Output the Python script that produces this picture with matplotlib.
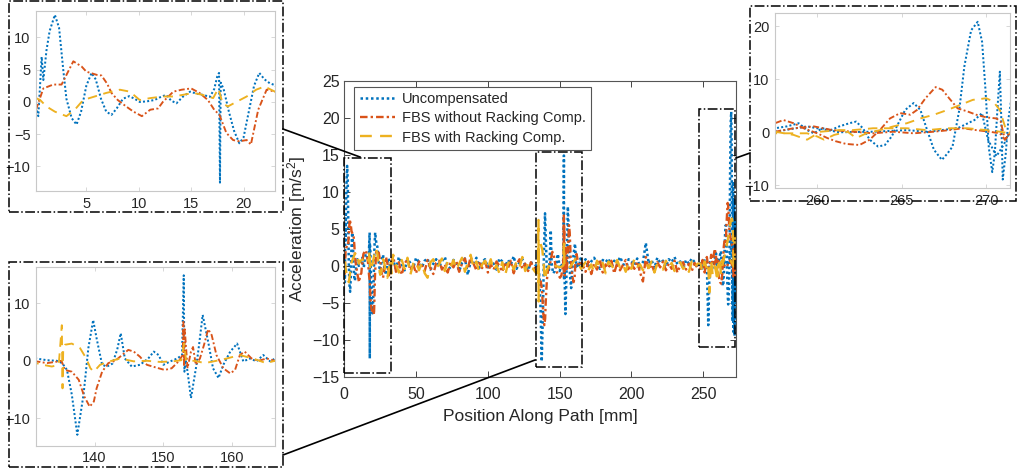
import numpy as np
import matplotlib
matplotlib.use('Agg')
import matplotlib.pyplot as plt
from matplotlib.lines import Line2D
from matplotlib.patches import Rectangle

plt.rcParams['font.family'] = ['Liberation Sans', 'DejaVu Sans']
plt.rcParams['mathtext.default'] = 'regular'

BLUE, ORANGE, YELLOW = '#0072BD', '#D95319', '#EDB120'
TXT = '#262626'

# ---------------- data (position mm, acceleration m/s^2) ----------------
# segment 1: start of path (0 - 33 mm)
s1_x_unc = [0.2, 0.42, 0.74, 0.9, 1.2, 1.5, 2.0, 2.4, 2.8, 3.1, 3.6, 4.07, 4.5, 5.0, 5.5, 5.9, 6.4, 6.9,
            7.4, 7.9, 8.5, 9.1, 9.6, 10.1, 10.8, 11.5, 12.0, 12.6, 13.1, 13.6, 14.2, 14.9, 15.5, 16.1,
            16.8, 17.2, 17.5, 17.66, 17.75, 17.82, 18.1, 18.6, 19.1, 19.6, 20.0, 20.5, 21.0, 21.5, 22.0,
            22.5, 23.0, 24, 25, 26, 27, 28, 29, 30, 31, 32, 33]
s1_unc = [-0.7, -2.2, 7.0, 3.4, 8.0, 11.0, 13.5, 11.5, 5.0, 0.5, -2.5, -3.5, -1.5, 2.5, 4.5, 3.5, 0.5, -1.5,
          -2.0, -1.0, 0.5, 0.9, 0.5, 0.0, 0.1, 0.3, 0.7, 1.1, 0.2, -0.2, 0.8, 1.6, 1.3, 1.1,
          0.8, 2.0, 4.0, 4.5, -12.5, 3.0, 2.0, -1.5, -4.5, -6.4, -5.5, -1.5, 2.5, 4.5, 3.5,
          2.9, 2.6, 0.5, -1.0, 0.8, 1.5, -0.5, -1.2, 0.6, 1.0, -0.3, 0.5]
s1_x_fbs = [0.2, 0.9, 1.85, 2.64, 3.2, 3.76, 4.55, 5.0, 6.0, 6.45, 7.0, 7.4, 8.0, 8.8, 9.5, 10.3, 11.1,
            11.85, 12.3, 13.3, 14.1, 15.0, 15.8, 16.6, 17.2, 17.7, 18.36, 19.0, 19.6, 20.3, 20.7, 21.4,
            22.2, 23.0, 24, 25, 26, 27, 28, 29, 30, 31, 32, 33]
s1_fbs = [-1.2, 2.1, 2.7, 2.7, 4.5, 6.3, 5.5, 4.7, 4.2, 4.1, 2.8, 1.4, 0.3, -0.7, -1.5, -2.2, -1.2,
          -1.0, 0.0, 1.6, 1.9, 2.1, 1.4, 0.3, -1.2, -2.0, -4.8, -5.9, -6.1, -5.9, -6.6, -1.2,
          1.9, 1.6, 1.8, 0.6, -1.0, -1.6, -0.3, 1.2, 0.4, -1.3, -0.8, 0.6]
s1_x_rack = [0.2, 0.6, 1.2, 2.0, 3.1, 3.9, 4.7, 5.8, 6.9, 8.2, 9.15, 10.1, 11.1, 12.3, 13.3, 14.2, 15.2,
             16.1, 17.1, 17.6, 18.0, 18.5, 19.3, 20.3, 21.2, 22.0, 23.0, 24, 25, 26, 27, 28, 29, 30,
             31, 32, 33]
s1_rack = [0.6, 0.3, -0.7, -1.5, -2.2, -1.2, 0.3, 0.85, 1.4, 1.9, 1.6, 0.3, 0.6, 0.85, 0.85, 1.1, 1.4,
           1.1, 0.6, 2.1, -0.2, -0.7, 0.0, 0.85, 1.9, 2.4, 1.6, 0.2, -1.2, -0.6, 0.9, 0.3, -1.4, -1.6,
           -0.5, 0.8, -1.0]

# quiet stretch 34 - 130 mm, sampled every 2 mm
q1_x = np.arange(34, 131, 2)
q1_unc = [0.8, -0.4, 1.2, 0.2, -0.6, 0.9, 0.4, -0.3, 1.1, 0.5, -0.2, 0.7, 1.0, -0.5, 0.3, 0.9, -0.1,
          0.6, 1.2, 0.0, -0.4, 0.8, 0.5, -0.7, 0.4, 1.0, -1.2, 0.6, 0.2, 1.1, -0.3, 0.5, 0.9, -0.2,
          0.7, 0.3, -0.5, 1.0, 0.6, -0.1, 0.8, 0.2, 1.3, -0.4, 0.5, 0.9, 0.1, -0.6, 0.4]
q1_fbs = [1.4, -0.8, 0.5, -1.2, 0.3, 0.9, -0.6, 0.2, -1.0, 0.6, 0.1, -0.7, 0.8, -0.3, -1.1, 0.4, 0.7,
          -0.5, 0.2, -0.9, 0.5, -0.2, 0.6, -0.8, 0.3, 1.0, -0.4, 1.2, 0.3, -0.6, 0.4, -0.3, 0.8, -0.9,
          0.2, -0.5, 0.6, 0.0, -0.8, 0.5, -0.3, 0.7, -1.0, 0.2, 0.9, -0.4, 0.3, -0.7, 0.5]
q1_rack = [1.5, 0.2, -0.9, 0.8, -0.4, 1.1, -1.2, 0.3, 0.7, -0.6, 0.4, -1.0, -1.6, 0.5, 0.9, -0.3, 0.2,
           1.0, -0.7, 0.6, -0.2, 0.8, -0.5, 0.3, 1.1, -0.8, 0.4, 1.5, -0.3, 0.6, -0.9, 0.2, 0.7, -0.4,
           0.9, -0.6, 0.1, -1.0, 0.5, -1.3, 0.3, 0.8, -0.5, 0.6, -0.2, 1.2, -0.7, 0.4, -0.3]

# segment 2: middle disturbance (131.5 - 166.2 mm)
s2_x_unc = [131.5, 133.1, 134.5, 135.3, 136.0, 136.7, 137.5, 138.4, 139.1, 139.8, 140.3, 141.1, 141.8,
            142.6, 143.3, 143.8, 144.4, 145.4, 146.6, 147.8, 148.6, 149.3, 150.0, 151.0, 152.0, 152.7,
            152.95, 153.05, 153.2, 153.5, 154.0, 154.8, 155.2, 155.7, 156.5, 157.2, 158.0, 158.7,
            159.7, 160.7, 161.6, 162.6, 163.5, 164.5, 165.5, 166.2]
s2_unc = [0.4, 0.1, 0.0, -0.4, -1.6, -5.9, -12.9, -5.9, 2.2, 7.1, 3.9, -0.7, -1.0,
          -0.5, 2.0, 4.8, 0.4, -1.0, -0.7, 0.4, 1.6, 1.0, -0.7, -0.1, 0.4, 1.0,
          14.9, -1.9, 0.5, -1.9, -6.5, -0.7, 3.0, 8.0, 3.3, -1.3, -3.0, -0.7,
          1.6, 3.0, -0.1, 0.4, -0.1, 1.0, -0.1, 0.4]
s2_x_fbs = [131.5, 133.1, 134.3, 135.2, 135.7, 136.7, 137.7, 138.5, 139.3, 139.9, 140.3, 141.1, 142.0,
            143.0, 144.0, 144.9, 145.7, 146.6, 147.6, 149.0, 150.2, 151.2, 152.2, 152.8, 152.9, 153.0,
            153.1, 153.5, 154.0, 154.3, 154.7, 155.3, 155.9, 156.5, 157.0, 157.7, 158.7, 159.7, 160.4,
            161.1, 161.8, 162.8, 163.8, 165.0, 166.2]
s2_fbs = [-0.1, -0.4, -0.2, 0.0, -1.6, -1.9, -3.3, -6.2, -8.0, -7.1, -4.8, -1.9, -0.4,
          0.0, 1.0, 1.9, 1.6, 0.7, -0.7, -1.2, -1.6, -1.3, -0.1, 1.0, 6.8, -1.0,
          5.5, -1.3, 1.6, 2.4, -0.7, 0.4, 2.8, 5.5, 4.5, 1.0, -1.3, -2.2, -1.6,
          1.0, 1.6, 0.4, 0.0, 0.4, 0.0]
s2_x_rack = [131.5, 132.5, 133.8, 134.8, 135.25, 135.35, 135.45, 135.7, 136.7, 137.9, 138.8, 139.4,
             139.9, 140.8, 142.2, 143.7, 145.7, 147.6, 149.5, 151.4, 152.6, 153.0, 153.3, 154.5,
             156.0, 157.7, 159.2, 161.1, 163.0, 164.9, 166.2]
s2_rack = [-0.4, -0.7, -1.0, -0.7, 6.2, -4.8, 2.0, 2.8, 3.0, 2.2, 0.4, -1.3,
           -1.9, -0.7, -0.1, 0.4, -0.1, 0.0, -0.2, -0.1, 0.1, 3.0, 0.0, 0.0,
           -0.4, 0.0, 0.4, 1.0, 0.4, -0.4, 0.0]

# quiet stretch 168 - 246 mm, sampled every 2 mm
q2_x = np.arange(168, 247, 2)
q2_unc = [0.9, -0.2, 0.6, 1.1, 0.3, -0.4, 0.8, 0.5, 1.0, -0.3, 0.7, 0.2, 1.2, 0.4, -0.5, 0.9, 0.6,
          0.1, 1.0, -0.2, 0.5, 3.1, 0.3, 0.8, -0.3, 1.1, 0.4, 0.7, -0.1, 0.9, 0.5, 1.2, 0.2, 0.6,
          -0.4, 0.8, 0.3, 1.0, 0.5, -0.2]
q2_fbs = [-0.8, 0.6, -1.1, 0.3, -0.5, 0.9, -0.9, 0.2, -0.3, 0.7, -1.0, 0.4, -0.6, 0.1, 0.8, -0.7,
          0.3, -0.4, 0.6, -0.9, -2.1, 1.2, -0.5, 0.2, -0.8, 0.5, -0.2, 0.6, -0.6, 0.3, -0.4, 0.7,
          -0.9, 0.1, 0.5, -0.5, 0.3, -0.7, 0.4, -0.3]
q2_rack = [0.5, -0.6, 0.2, -0.9, 0.7, -0.3, 0.4, -1.0, 0.6, 0.1, -0.5, 0.8, -0.2, 0.3, -0.8, 0.5,
           -0.4, 0.9, -0.1, 0.2, -0.6, 0.4, -0.3, 0.6, -0.9, 0.3, 0.0, -0.5, 0.7, -0.2, 0.4, -0.7,
           0.2, 0.5, -0.4, 0.1, -0.8, 0.6, -0.2, 0.3]

# segment 3: end of path (248 - 272.4 mm)
s3_x_unc = [248, 249.5, 251, 252.5, 253.5, 254.5, 256, 257.5, 258.2, 258.9, 259.4, 259.8, 260.3,
            260.8, 261.3, 261.9, 262.3, 262.7, 263.1, 263.6, 264.0, 264.4, 264.8, 265.2, 265.7,
            266.1, 266.5, 266.9, 267.37, 267.7, 268.0, 268.4, 268.7, 269.1, 269.49, 269.75, 269.95,
            270.15, 270.35, 270.5, 270.65, 270.8, 270.88, 270.97, 271.15, 271.3, 271.6, 271.8,
            272.0, 272.2, 272.4]
s3_unc = [0.6, -0.5, 0.9, 0.2, -8.0, 0.5, -0.6, 0.75, 1.1, 1.7, 0.4, -0.2, 0.75,
          0.4, 1.1, 1.7, 2.0, 0.75, -1.4, -2.7, -2.4, -0.8, 1.7, 4.2, 5.5,
          4.2, 0.4, -3.3, -5.2, -4.0, -2.7, 4.2, 12.4, 19.2, 20.8, 17.0, 8.0,
          -3.0, -7.5, -4.0, 4.0, 11.4, 3.0, -8.9, -4.0, 2.3, 9.0, -9.5,
          6.0, -5.0, 3.0]
s3_x_fbs = [248, 249.5, 251, 252.5, 254, 255.5, 256.5, 257.5, 258.0, 258.6, 259.2, 260.0, 260.6,
            261.1, 261.7, 262.5, 263.1, 263.7, 264.3, 264.9, 265.5, 265.9, 266.4, 267.0, 267.4,
            267.8, 268.3, 268.9, 269.4, 270.0, 270.6, 270.85, 271.1, 271.4, 271.8, 272.4]
s3_fbs = [-0.4, 0.8, -0.9, 1.2, -1.0, 1.5, 0.5, 1.7, 2.3, 1.7, 0.75, -0.2, -1.1,
          -1.7, -2.2, -2.4, -1.4, 0.4, 2.6, 3.6, 3.3, 4.2, 6.4, 8.5, 8.0,
          6.4, 4.5, 3.9, 3.3, 2.8, 2.6, 2.0, -1.4, -0.2, 3.0, -2.0]
s3_x_rack = [248, 249.5, 251, 252.5, 253.5, 254.2, 255.5, 256.5, 257.5, 258.4, 259.4, 260.0, 260.4,
             261.0, 261.8, 262.3, 262.9, 263.7, 264.5, 265.3, 266.1, 266.9, 267.7, 268.5, 269.2,
             270.0, 270.4, 270.8, 271.1, 271.4, 271.8, 272.4]
s3_rack = [0.3, -0.8, 0.6, -0.4, 0.2, -3.6, 0.8, -1.2, -0.2, -0.2, -0.2, -0.8, -1.4,
           -0.5, 0.1, -1.1, -0.2, 0.4, 1.1, 1.7, 2.6, 3.3, 4.2, 5.2, 6.1,
           6.4, 5.8, 4.2, 1.1, -0.2, 4.0, 2.0]

# second pass over the end of the path
p2_x_unc = [257.5, 259.4, 261.3, 263.3, 265.3, 266.5, 268.3, 269.3, 269.74, 270.1, 270.6, 271.0, 271.4]
p2_unc = [0.1, 1.1, 0.0, 0.1, 0.4, 0.1, 0.75, 2.3, 3.6, -1.4, -4.5, -2.5, 0.0]
p2_x_fbs = [257.5, 258.6, 259.8, 260.9, 262.1, 263.3, 264.5, 265.7, 266.9, 267.8, 268.6, 269.4,
            270.2, 270.8, 271.1, 271.4]
p2_fbs = [0.1, 0.75, 1.1, 0.4, 0.1, -0.2, 0.1, -0.2, 0.1, 0.4, 0.75, 0.4, 0.1, -0.2, -1.4, 0.1]
p2_x_rack = [257.5, 258.6, 259.4, 260.2, 261.3, 262.1, 263.3, 264.3, 265.3, 266.5, 267.7, 268.9,
             270.0, 270.8, 271.4]
p2_rack = [0.1, -0.5, -1.4, 0.1, 0.4, 0.4, 0.75, 0.75, 0.75, 0.4, 0.75, 0.75, 0.4, 0.1, -0.2]

labels = ['Uncompensated', 'FBS without Racking Comp.', 'FBS with Racking Comp.']

x_unc = np.concatenate([s1_x_unc, q1_x, s2_x_unc, q2_x, s3_x_unc])
y_unc = np.concatenate([s1_unc, q1_unc, s2_unc, q2_unc, s3_unc])
x_fbs = np.concatenate([s1_x_fbs, q1_x, s2_x_fbs, q2_x, s3_x_fbs])
y_fbs = np.concatenate([s1_fbs, q1_fbs, s2_fbs, q2_fbs, s3_fbs])
x_rack = np.concatenate([s1_x_rack, q1_x, s2_x_rack, q2_x, s3_x_rack])
y_rack = np.concatenate([s1_rack, q1_rack, s2_rack, q2_rack, s3_rack])

styles = [dict(color=BLUE, ls=(0, (1, 1.1)), lw=1.8),
          dict(color=ORANGE, ls=(0, (3.2, 1.3, 1, 1.3)), lw=1.7),
          dict(color=YELLOW, ls=(0, (5, 3.5)), lw=1.7)]
series = [(x_unc, y_unc, p2_x_unc, p2_unc),
          (x_fbs, y_fbs, p2_x_fbs, p2_fbs),
          (x_rack, y_rack, p2_x_rack, p2_rack)]

# ---------------- layout ----------------
W, H = 1019, 473
fig = plt.figure(figsize=(W / 100, H / 100), dpi=100)


def px_rect(x0, y0, x1, y1):
    return [x0 / W, 1 - y1 / H, (x1 - x0) / W, (y1 - y0) / H]


def fig_line(x0, y0, x1, y1, **kw):
    fig.add_artist(Line2D([x0 / W, x1 / W], [1 - y0 / H, 1 - y1 / H],
                          transform=fig.transFigure, **kw))


def draw_series(a, lw_scale=1.0):
    handles = []
    for (x, y, x2, y2), st, lab in zip(series, styles, labels):
        s = dict(st)
        s['lw'] = st['lw'] * lw_scale
        h, = a.plot(x, y, label=lab, solid_joinstyle='round', dash_joinstyle='round', **s)
        a.plot(x2, y2, solid_joinstyle='round', dash_joinstyle='round', **s)
        handles.append(h)
    return handles


# main axes
ax = fig.add_axes(px_rect(344.3, 80.7, 735.7, 377))
handles = draw_series(ax)
ax.set_xlim(0, 272.6)
ax.set_ylim(-15, 25)
ax.set_xticks([0, 50, 100, 150, 200, 250])
ax.set_yticks(np.arange(-15, 26, 5))
ax.tick_params(direction='in', top=True, right=True, labelsize=11.5, colors=TXT, length=4, width=0.6)
ax.tick_params(axis='x', pad=7)
for sp in ax.spines.values():
    sp.set_color('#555555')
    sp.set_linewidth(0.8)
ax.set_xlabel('Position Along Path [mm]', fontsize=12.5, color=TXT, labelpad=5)
ax.set_ylabel('Acceleration [m/s$^{2}$]', fontsize=12.5, color=TXT, labelpad=3)
leg = ax.legend(handles=handles, loc='upper left', bbox_to_anchor=(0.026, 0.978), borderaxespad=0,
                fontsize=10.5, handlelength=2.4, handletextpad=0.5, labelspacing=0.35,
                borderpad=0.35, fancybox=False, framealpha=1)
leg.get_frame().set_edgecolor('#555555')
leg.get_frame().set_linewidth(0.8)
for t in leg.get_texts():
    t.set_color(TXT)

# zoom rectangles on the main axes
zoom_boxes = [(0, -14.4, 32.5, 14.6), (133.3, -13.6, 165.7, 15.4), (247.2, -10.9, 272.4, 21.2)]
for x0, y0, x1, y1 in zoom_boxes:
    ax.add_patch(Rectangle((x0, y0), x1 - x0, y1 - y0, fill=False, ls='-.', lw=1.1,
                           ec='black', clip_on=False, zorder=5))

# insets
insets = [
    dict(ax=(36, 11, 275, 191), box=(9, 1, 283, 212), xlim=(0.2, 23), ylim=(-13.8, 14.1),
         xt=[5, 10, 15, 20], yt=[-10, -5, 0, 5, 10]),
    dict(ax=(36, 266.7, 275, 445.7), box=(9, 262, 283, 467), xlim=(131.5, 166.2), ylim=(-14.8, 16.4),
         xt=[140, 150, 160], yt=[-10, 0, 10]),
    dict(ax=(775, 13.3, 1010, 188), box=(750, 6, 1016, 201), xlim=(257.5, 271.4), ylim=(-10.5, 22.4),
         xt=[260, 265, 270], yt=[-10, 0, 10, 20]),
]
for ins in insets:
    a = fig.add_axes(px_rect(*ins['ax']))
    draw_series(a, lw_scale=0.8)
    a.set_xlim(*ins['xlim'])
    a.set_ylim(*ins['ylim'])
    a.set_xticks(ins['xt'])
    a.set_yticks(ins['yt'])
    a.tick_params(direction='in', top=True, right=True, labelsize=10.5, colors=TXT, length=3,
                  width=0.5, pad=4)
    a.tick_params(which='both', color='#c8c8c8')
    for sp in a.spines.values():
        sp.set_color('#c8c8c8')
        sp.set_linewidth(0.8)
    bx0, by0, bx1, by1 = ins['box']
    fig.add_artist(Rectangle((bx0 / W, 1 - by1 / H), (bx1 - bx0) / W, (by1 - by0) / H,
                             transform=fig.transFigure, fill=False, ls='-.', lw=1.1, ec='black'))

# connector lines
fig_line(283, 129, 360, 157, color='black', lw=1.2)
fig_line(283, 455, 535, 360, color='black', lw=1.2)
fig_line(736, 158, 750, 153, color='black', lw=1.2)

fig.savefig('out.png', dpi=100)
